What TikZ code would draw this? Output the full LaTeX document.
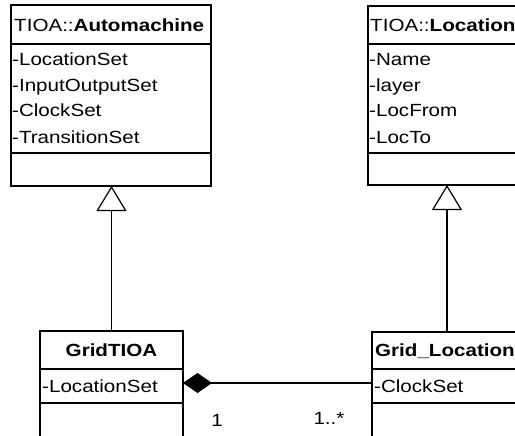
\documentclass[tikz,border=0pt]{standalone}
\usepackage{fontspec}
\setmainfont{Liberation Sans}[FakeStretch=1.17]
\usetikzlibrary{arrows.meta}
\begin{document}
\begin{tikzpicture}[x=1pt,y=-1pt,
  classbox/.style={draw, line width=1.7pt, rectangle, anchor=north west, inner sep=0pt, outer sep=0pt},
  sep/.style={line width=1.4pt},
  txt/.style={anchor=base west, inner sep=0pt, font=\fontsize{17.6}{21}\selectfont},
  ttl/.style={txt, font=\fontsize{17.6}{21}\selectfont\bfseries},
  gen/.style={line width=1.2pt, -{Triangle[open, fill=white, length=25pt, width=30pt]}},
  comp/.style={line width=1.2pt, -{Diamond[length=29pt, width=20pt]}},
  mult/.style={inner sep=0pt, font=\fontsize{17.6}{21}\selectfont}]
\useasboundingbox (0,0) rectangle (515,436);
\clip (0,0) rectangle (515,436);

% TIOA::Automachine
\node[classbox, minimum width=200pt, minimum height=181pt] (auto) at (11,5) {};
\draw[sep] ([yshift=-39pt]auto.north west) -- ([yshift=-39pt]auto.north east);
\draw[sep] ([yshift=-148pt]auto.north west) -- ([yshift=-148pt]auto.north east);
\node[txt] (autot) at (14,32) {TIOA::\textbf{Automachine}};
\node[txt] (auto1) at (12,66) {-LocationSet};
\node[txt] (auto2) at (12,92) {-InputOutputSet};
\node[txt] (auto3) at (12,117) {-ClockSet};
\node[txt] (auto4) at (12,143) {-TransitionSet};

% TIOA::Location
\node[classbox, minimum width=200pt, minimum height=179pt] (loc) at (368,6) {};
\draw[sep] ([yshift=-38pt]loc.north west) -- ([yshift=-38pt]loc.north east);
\draw[sep] ([yshift=-147pt]loc.north west) -- ([yshift=-147pt]loc.north east);
\node[txt] (loct) at (370,32) {TIOA::\textbf{Location}};
\node[txt] (loc1) at (369,66) {-Name};
\node[txt] (loc2) at (369,92) {-layer};
\node[txt] (loc3) at (369,117) {-LocFrom};
\node[txt] (loc4) at (369,143) {-LocTo};

% GridTIOA
\node[classbox, minimum width=143pt, minimum height=120pt] (gt) at (40,331) {};
\draw[sep] ([yshift=-38pt]gt.north west) -- ([yshift=-38pt]gt.north east);
\draw[sep] ([yshift=-72pt]gt.north west) -- ([yshift=-72pt]gt.north east);
\node[ttl, anchor=base] (gtt) at (111.5,356) {GridTIOA};
\node[txt] (gt1) at (42,392) {-LocationSet};

% Grid_Location
\node[classbox, minimum width=200pt, minimum height=120pt] (gl) at (372,332) {};
\draw[sep] ([yshift=-37pt]gl.north west) -- ([yshift=-37pt]gl.north east);
\draw[sep] ([yshift=-71pt]gl.north west) -- ([yshift=-71pt]gl.north east);
\node[ttl] (glt) at (375,356) {Grid\_Location};
\node[txt] (gl1) at (374,392) {-ClockSet};

% generalisations
\draw[gen] (gt.north) -- (auto.south -| gt.north);
\draw[gen] ([xshift=75pt]gl.north west) -- ([xshift=79pt]loc.south west);

% composition
\draw[comp] ([yshift=-51pt]gl.north west) -- ([yshift=-52pt]gt.north east);
\node[mult] (m1) at (217,420) {1};
\node[mult] (m2) at (329,418) {1..*};
\end{tikzpicture}
\end{document}
